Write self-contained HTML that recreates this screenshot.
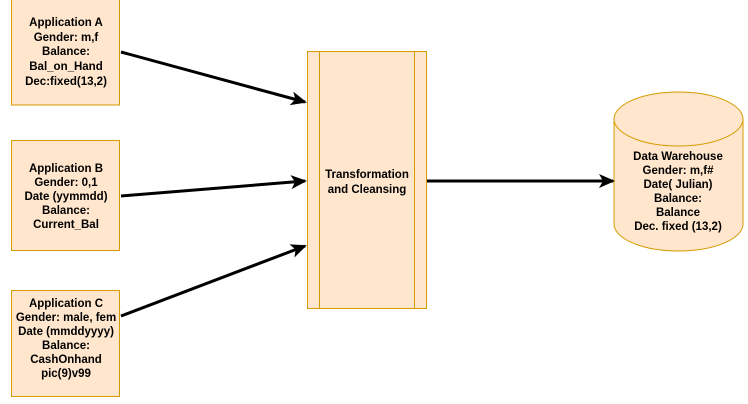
<!DOCTYPE html>
<html><head><style>
body{margin:0;background:#fff;}
svg{display:block;font-family:"Liberation Sans",Arial,sans-serif;font-size:11.5px;font-weight:bold;}
</style></head><body>
<svg width="748" height="404" viewBox="0 0 748 404">
<defs>
<marker id="b" markerWidth="16" markerHeight="16" refX="14" refY="8" orient="auto" markerUnits="userSpaceOnUse" viewBox="0 0 16 16"><path d="M0,1 L16,8 L0,15 L4,8 Z" fill="#000"/></marker></defs>
<g fill="#ffe6cc" stroke="#d79b00" stroke-width="1">
<rect x="11.5" y="-1" width="108" height="106"/>
<rect x="11.5" y="140.5" width="108" height="110"/>
<rect x="11.5" y="290.5" width="108" height="106"/>
<rect x="307.5" y="51.5" width="119" height="257"/>
<line x1="319.5" y1="51.5" x2="319.5" y2="308.5"/>
<line x1="414.5" y1="51.5" x2="414.5" y2="308.5"/>
<path d="M614,119 A64.5,27 0 0 1 743,119 L743,224 A64.5,27 0 0 1 614,224 Z"/>
<path d="M614,119 A64.5,27 0 0 0 743,119" fill="none"/>
</g>
<g stroke="#000" stroke-width="3" fill="none">
<line x1="121" y1="52" x2="305" y2="102" marker-end="url(#b)"/>
<line x1="121" y1="196" x2="305" y2="181" marker-end="url(#b)"/>
<line x1="121" y1="316" x2="305" y2="246" marker-end="url(#b)"/>
<line x1="427" y1="181" x2="613" y2="181" marker-end="url(#b)"/>
</g>
<g text-anchor="middle" fill="#000">
<text x="66" y="26">Application A</text>
<text x="66" y="41">Gender: m,f</text>
<text x="66" y="55">Balance:</text>
<text x="66" y="70">Bal_on_Hand</text>
<text x="66" y="85">Dec:fixed(13,2)</text>
<text x="66" y="172">Application B</text>
<text x="66" y="186">Gender: 0,1</text>
<text x="66" y="200">Date (yymmdd)</text>
<text x="66" y="214">Balance:</text>
<text x="66" y="228">Current_Bal</text>
<text x="66" y="307">Application C</text>
<text x="66" y="321">Gender: male, fem</text>
<text x="66" y="335">Date (mmddyyyy)</text>
<text x="66" y="349">Balance:</text>
<text x="66" y="363">CashOnhand</text>
<text x="66" y="377">pic(9)v99</text>
<text x="367" y="178">Transformation</text>
<text x="367" y="193">and Cleansing</text>
<text x="678" y="160">Data Warehouse</text>
<text x="678" y="174">Gender: m,f#</text>
<text x="678" y="188">Date( Julian)</text>
<text x="678" y="202">Balance:</text>
<text x="678" y="216">Balance</text>
<text x="678" y="230">Dec. fixed (13,2)</text>
</g>
</svg>
</body></html>
